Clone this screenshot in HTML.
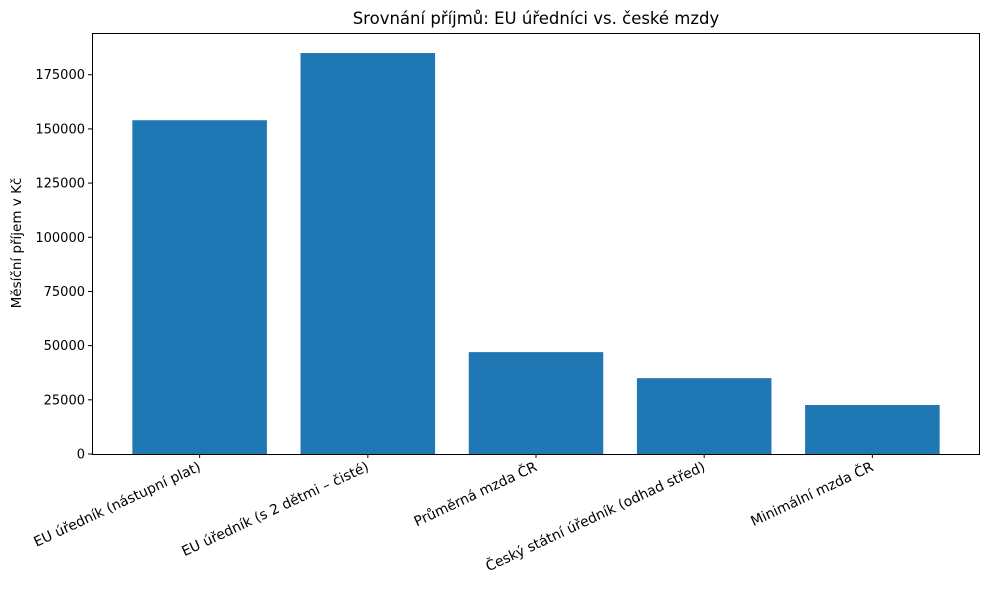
<!DOCTYPE html>
<html><head><meta charset="utf-8"><style>
body{margin:0;background:#fff;}
svg text{font-family:"DejaVu Sans","Liberation Sans",sans-serif;fill:#000;}
</style></head><body>
<svg id="chart" width="989" height="590">
<text x="536" y="24" font-size="16.5" text-anchor="middle">Srovnání příjmů: EU úředníci vs. české mzdy</text>
<text transform="translate(21,243) rotate(-90)" font-size="13.5" text-anchor="middle">Měsíční příjem v Kč</text>
<g id="bars"></g><g id="yticks"></g><g id="xticks"></g>
<rect x="92.5" y="33.5" width="887" height="421" fill="none" stroke="#000" stroke-width="1"/>
</svg>
<script>
const categories=["EU úředník (nástupní plat)","EU úředník (s 2 dětmi – čisté)","Průměrná mzda ČR","Český státní úředník (odhad střed)","Minimální mzda ČR"];
const values=[154000,185000,47000,35000,22600];
const yTickValues=[0,25000,50000,75000,100000,125000,150000,175000];
const NS="http://www.w3.org/2000/svg";
const L=92,R=980,T=33,B=454;
const yMax=194250;
function y(v){return B-(v/yMax)*(B-T);}
const xMin=-0.64,xMax=categories.length-1+0.64;
function x(i){return L+(i-xMin)/(xMax-xMin)*(R-L);}
const bw=0.8*(R-L)/(xMax-xMin);
function mk(tag,attrs,parent){const e=document.createElementNS(NS,tag);for(const k in attrs)e.setAttribute(k,attrs[k]);document.getElementById(parent).appendChild(e);return e;}
values.forEach((v,i)=>{
 const r=mk('rect',{x:x(i)-bw/2,y:y(v),width:bw,height:B-y(v),fill:'#1f77b4'},'bars');
 
 
});
yTickValues.forEach(t=>{
 const l=mk('line',{x1:L-4,x2:L,y1:y(t),y2:y(t),stroke:'#000'},'yticks');
 
 
 const tx=mk('text',{x:L-7,y:y(t)+4.5,'font-size':13,'text-anchor':'end'},'yticks');
 tx.textContent=t;
 
 
});
categories.forEach((c,i)=>{
 const l=mk('line',{x1:x(i),x2:x(i),y1:B,y2:B+4,stroke:'#000'},'xticks');
 
 
 const tx=mk('text',{'font-size':13.9,'text-anchor':'end',transform:`translate(${x(i)+2},${B+16}) rotate(-25)`},'xticks');
 tx.textContent=c;
 
 
});
</script>
</body></html>
